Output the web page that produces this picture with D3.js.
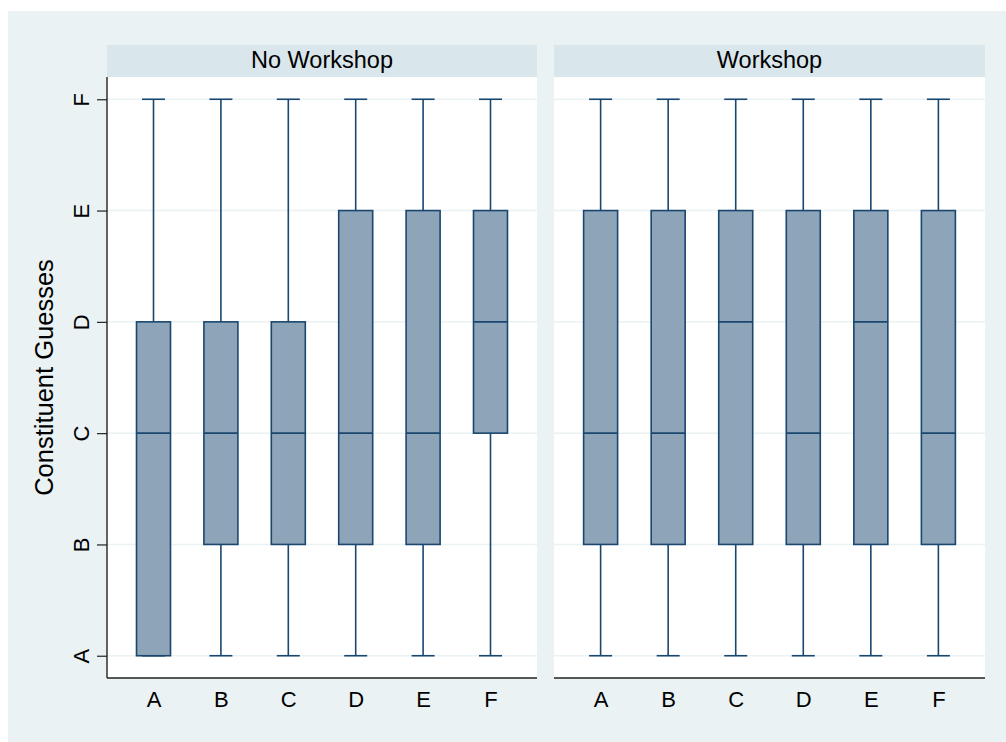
<!DOCTYPE html>
<html>
<head>
<meta charset="utf-8">
<script src="https://cdn.jsdelivr.net/npm/d3@7"></script>
<style>
  html, body { margin: 0; padding: 0; background: #ffffff; }
  svg { display: block; font-family: "Liberation Sans", Arial, Helvetica, sans-serif; }
  .tick text { font-size: 22px; font-family: "Liberation Sans", Arial, Helvetica, sans-serif; }
</style>
</head>
<body>
<svg id="chart" width="1006" height="742"></svg>
<script>
// ---- data ----
const categories = ["A", "B", "C", "D", "E", "F"];
const levels = ["A", "B", "C", "D", "E", "F"];
const panels = ["No Workshop", "Workshop"];
const yTitle = "Constituent Guesses";
// each entry: [lower whisker, q1, median, q3, upper whisker]
const noWorkshop = [
  ["A", "A", "C", "D", "F"],
  ["A", "B", "C", "D", "F"],
  ["A", "B", "C", "D", "F"],
  ["A", "B", "C", "E", "F"],
  ["A", "B", "C", "E", "F"],
  ["A", "C", "D", "E", "F"]
];
const workshop = [
  ["A", "B", "C", "E", "F"],
  ["A", "B", "C", "E", "F"],
  ["A", "B", "D", "E", "F"],
  ["A", "B", "C", "E", "F"],
  ["A", "B", "D", "E", "F"],
  ["A", "B", "C", "E", "F"]
];
const panelData = [noWorkshop, workshop];

// ---- layout ----
const svg = d3.select("#chart");
const navy = "#1a476f";
const boxFill = "#8ea4b9";
const bg = "#eaf2f3";
const strip = "#d9e6eb";

svg.append("rect").attr("x", 8).attr("y", 11).attr("width", 998).attr("height", 731).attr("fill", bg);

const plotTop = 77, plotBottom = 678, stripTop = 45;
const panelX = [[107, 537], [554, 985]];

const y = d3.scalePoint().domain(levels).range([plotBottom, plotTop]).padding(0.2);

panelX.forEach((px, i) => {
  const g = svg.append("g");
  const x = d3.scalePoint().domain(categories).range(px).padding(0.69);
  // white plot region
  g.append("rect").attr("x", px[0]).attr("y", plotTop).attr("width", px[1] - px[0]).attr("height", plotBottom - plotTop).attr("fill", "#ffffff");
  // strip
  g.append("rect").attr("x", px[0]).attr("y", stripTop).attr("width", px[1] - px[0]).attr("height", plotTop - stripTop).attr("fill", strip);
  g.append("text").attr("x", (px[0] + px[1]) / 2).attr("y", 67.5).attr("text-anchor", "middle")
    .attr("font-size", 23.5).attr("fill", "#000").text(panels[i]);
  // gridlines
  g.selectAll("line.grid").data(levels).join("line").attr("class", "grid")
    .attr("x1", px[0]).attr("x2", px[1]).attr("y1", d => y(d)).attr("y2", d => y(d))
    .attr("stroke", bg).attr("stroke-width", 1.5);

  // boxes
  const data = panelData[i];
  const bw = 34, cw = 23;
  const items = g.selectAll("g.box").data(data).join("g").attr("class", "box")
    .attr("transform", (d, j) => `translate(${x(categories[j])},0)`);
  items.append("line").attr("x1", 0).attr("x2", 0).attr("y1", d => y(d[3])).attr("y2", d => y(d[4]))
    .attr("stroke", navy).attr("stroke-width", 1.6);
  items.append("line").attr("x1", 0).attr("x2", 0).attr("y1", d => y(d[0])).attr("y2", d => y(d[1]))
    .attr("stroke", navy).attr("stroke-width", 1.6);
  items.append("line").attr("x1", -cw / 2).attr("x2", cw / 2).attr("y1", d => y(d[4])).attr("y2", d => y(d[4]))
    .attr("stroke", navy).attr("stroke-width", 1.6);
  items.append("line").attr("x1", -cw / 2).attr("x2", cw / 2).attr("y1", d => y(d[0])).attr("y2", d => y(d[0]))
    .attr("stroke", navy).attr("stroke-width", 1.6);
  items.append("rect").attr("x", -bw / 2).attr("width", bw)
    .attr("y", d => y(d[3])).attr("height", d => y(d[1]) - y(d[3]))
    .attr("fill", boxFill).attr("stroke", navy).attr("stroke-width", 1.6);
  items.append("line").attr("x1", -bw / 2).attr("x2", bw / 2).attr("y1", d => y(d[2])).attr("y2", d => y(d[2]))
    .attr("stroke", navy).attr("stroke-width", 1.6);

  // x axis
  const xa = g.append("g").attr("transform", `translate(0,${plotBottom})`)
    .call(d3.axisBottom(x).tickSize(0).tickPadding(13));
  xa.select(".domain").attr("stroke", "#222").attr("stroke-width", 1.4).attr("d", `M${px[0]},0H${px[1]}`);
  xa.selectAll("text").attr("fill", "#000");

  if (i === 0) {
    const ya = g.append("g").attr("transform", `translate(${px[0]},0)`)
      .call(d3.axisLeft(y).tickSize(10).tickPadding(0));
    ya.select(".domain").attr("stroke", "#222").attr("stroke-width", 1.4).attr("d", `M0,${plotTop}V${plotBottom}`);
    ya.selectAll(".tick line").attr("stroke", "#222").attr("stroke-width", 1.2);
    ya.selectAll("text").attr("fill", "#000")
      .attr("text-anchor", "middle").attr("x", 0).attr("dy", 0).attr("y", 0)
      .attr("transform", "translate(-18,0) rotate(-90)");
  }
});

svg.append("text").attr("transform", `translate(53,${(plotTop + plotBottom) / 2}) rotate(-90)`)
  .attr("text-anchor", "middle").attr("font-size", 25.5).attr("fill", "#000").text(yTitle);
</script>
</body>
</html>
